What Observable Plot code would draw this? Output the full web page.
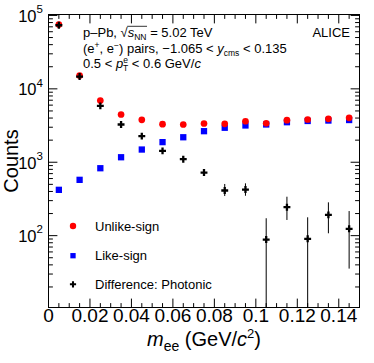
<!DOCTYPE html>
<html><head><meta charset="utf-8">
<script src="https://cdn.jsdelivr.net/npm/d3@7"></script>
<script src="https://cdn.jsdelivr.net/npm/@observablehq/plot@0.6"></script>
<style>body{margin:0;background:#fff;} svg{display:block}</style>
</head><body><div id="chart"></div>
<script>
// ---- data ----
const mass = [0.005,0.015,0.025,0.035,0.045,0.055,0.065,0.075,0.085,0.095,0.105,0.115,0.125,0.135,0.145];
const unlikeSign = [75200,15200,6930,4470,3780,3300,3270,3370,3340,3620,3400,3740,3820,3910,4030];
const likeSign   = [421,576,829,1170,1490,1880,2190,2650,2950,3170,3270,3510,3650,3700,3760];
const photonic   = [73500,14700,5870,3270,2270,1430,1100,724,412,425,88.5,244,90.6,192,124];
const photonicLo = [null,null,null,null,null,null,null,null,341,344,1,161,1,106,35];
const photonicHi = [null,null,null,null,null,null,null,null,498,508,170,334,175,280,213];

const xTicksMajor = [0,0.02,0.04,0.06,0.08,0.1,0.12,0.14];
const xTickLabels = ["0","0.02","0.04","0.06","0.08","0.1","0.12","0.14"];
const xTicksMinor = [0.005,0.01,0.015,0.025,0.03,0.035,0.045,0.05,0.055,0.065,0.07,0.075,0.085,0.09,0.095,0.105,0.11,0.115,0.125,0.13,0.135,0.145];
const yTicksMajor = [100,1000,10000,100000];
const yTickExponents = ["2","3","4","5"];
const yDecades = [10,100,1000,10000];
const yMultipliers = [2,3,4,5,6,7,8,9];
const yTicksMinor = yDecades.flatMap(d => yMultipliers.map(m => d*m));

const legendLabels = ["Unlike-sign","Like-sign","Difference: Photonic"];

const rows = mass.map((m,i) => ({m, unlike: unlikeSign[i], like: likeSign[i], phot: photonic[i], lo: photonicLo[i], hi: photonicHi[i]}));

const FONT = "Liberation Sans, Arial, Helvetica, sans-serif";
const tickShape = {draw(context, l) { context.moveTo(0, 0); context.lineTo(0, -l); }};
const MAJ = 8.5, MIN = 4;

function ticks(values, ch, frameAnchor, rotate, length) {
  return Plot.vector(values, {[ch]: d => d, frameAnchor, rotate, length, anchor: "start", shape: tickShape, stroke: "black", strokeWidth: 1});
}

const chart = Plot.plot({
  width: 374, height: 363,
  marginLeft: 48, marginRight: 15, marginTop: 14, marginBottom: 56,
  style: {fontFamily: FONT, background: "white", color: "black"},
  x: {domain: [0, 0.15], axis: null},
  y: {type: "log", domain: [10.5, 103000], axis: null},
  marks: [
    Plot.ruleX(rows.filter(d => d.lo != null), {x: "m", y1: "lo", y2: "hi", stroke: "black", strokeWidth: 1, clip: true}),
    Plot.dot(rows, {x: "m", y: "like", symbol: "square", r: 3.55, fill: "#0000ff"}),
    Plot.dot(rows, {x: "m", y: "unlike", symbol: "circle", r: 3.35, fill: "#ff0000"}),
    Plot.dot(rows, {x: "m", y: "phot", symbol: "cross", r: 2.9, fill: "black"}),
    Plot.frame({stroke: "black", strokeWidth: 1}),
    // ticks pointing inward on all four sides
    ticks(xTicksMajor, "x", "bottom", 0, MAJ),
    ticks(xTicksMinor, "x", "bottom", 0, MIN),
    ticks(xTicksMajor, "x", "top", 180, MAJ),
    ticks(xTicksMinor, "x", "top", 180, MIN),
    ticks(yTicksMajor, "y", "left", 90, MAJ),
    ticks(yTicksMinor, "y", "left", 90, MIN),
    ticks(yTicksMajor, "y", "right", -90, MAJ),
    ticks(yTicksMinor, "y", "right", -90, MIN),
    // tick labels
    Plot.text(xTicksMajor, {x: d => d, text: (d, i) => xTickLabels[i], frameAnchor: "bottom", dy: 14, fontSize: 19, fill: "black"}),
    Plot.text(yTicksMajor, {y: d => d, text: () => "10", frameAnchor: "left", textAnchor: "end", dx: -12, dy: 1, fontSize: 16.5, fill: "black"}),
    Plot.text(yTicksMajor, {y: d => d, text: (d, i) => yTickExponents[i], frameAnchor: "left", textAnchor: "end", dx: -5.5, dy: -6, fontSize: 11.5, fill: "black"})
  ]
});
document.getElementById("chart").append(chart);

const svg = d3.select(chart);
const g = svg.append("g").attr("font-family", FONT).attr("fill", "black").attr("text-anchor", "start");

// axis titles
const xt = g.append("text").attr("x", 204).attr("y", 346).attr("text-anchor", "middle").attr("font-size", 20);
xt.append("tspan").attr("font-style", "italic").text("m");
xt.append("tspan").attr("font-size", 14).attr("dy", 5).text("ee");
xt.append("tspan").attr("dy", -5).text(" (GeV/");
xt.append("tspan").attr("font-style", "italic").text("c");
xt.append("tspan").attr("font-size", 13).attr("dy", -8).text("2");
xt.append("tspan").attr("dy", 8).text(")");

g.append("text").attr("transform", "translate(18,161) rotate(-90)").attr("text-anchor", "middle").attr("font-size", 20).text("Counts");

// annotations
const t1 = g.append("text").attr("x", 83).attr("y", 37.3).attr("font-size", 13);
t1.append("tspan").text("p–Pb, √");
t1.append("tspan").attr("font-style", "italic").text("s");
t1.append("tspan").attr("font-size", 8.5).attr("dy", 2.3).text("NN");
t1.append("tspan").attr("dy", -2.3).text(" = 5.02 TeV");

const t2 = g.append("text").attr("x", 83).attr("y", 52.5).attr("font-size", 13);
t2.append("tspan").text("(e");
t2.append("tspan").attr("font-size", 8.5).attr("dy", -5).text("+");
t2.append("tspan").attr("dy", 5).text(", e");
t2.append("tspan").attr("font-size", 8.5).attr("dy", -5).text("−");
t2.append("tspan").attr("dy", 5).text(") pairs, −1.065 < ");
t2.append("tspan").attr("font-style", "italic").text("y");
t2.append("tspan").attr("font-size", 8.5).attr("dy", 3).text("cms");
t2.append("tspan").attr("dy", -3).text(" < 0.135");

const t3 = g.append("text").attr("x", 83).attr("y", 67.5).attr("font-size", 13);
t3.append("tspan").text("0.5 < ");
t3.append("tspan").attr("font-style", "italic").text("p");
t3.append("tspan").attr("font-size", 8.5).attr("dy", -5).text("e");
t3.append("tspan").attr("font-size", 8.5).attr("dy", 8.5).attr("dx", -4.8).text("T");
t3.append("tspan").attr("dy", -3.5).text(" < 0.6 GeV/");
t3.append("tspan").attr("font-style", "italic").text("c");

g.append("text").attr("x", 350).attr("y", 36.8).attr("text-anchor", "end").attr("font-size", 13).text("ALICE");

// overline of the square root
{
  const el = t1.node();
  const s = "p–Pb, √".length; // index of "s"
  const x1 = el.getStartPositionOfChar(s).x - 0.5;
  const x2 = el.getEndPositionOfChar(s + 2).x + 0.5;
  g.append("line").attr("x1", x1).attr("x2", x2).attr("y1", 26.3).attr("y2", 26.3).attr("stroke", "black").attr("stroke-width", 0.8);
}

// legend
const legY = [226, 255.7, 284.3];
const lg = g.append("g");
lg.append("path").attr("transform", `translate(73,${legY[0]})`).attr("d", d3.symbol(d3.symbolCircle, Math.PI*3.2*3.2)()).attr("fill", "#ff0000");
lg.append("path").attr("transform", `translate(73,${legY[1]})`).attr("d", d3.symbol(d3.symbolSquare, Math.PI*3.0*3.0)()).attr("fill", "#0000ff");
lg.append("path").attr("transform", `translate(73,${legY[2]})`).attr("d", d3.symbol(d3.symbolCross, Math.PI*2.6*2.6)()).attr("fill", "black");
legendLabels.forEach((lab, i) => {
  lg.append("text").attr("x", 95).attr("y", legY[i]).attr("dy", "0.35em").attr("font-size", 13).text(lab);
});
</script>
</body></html>
